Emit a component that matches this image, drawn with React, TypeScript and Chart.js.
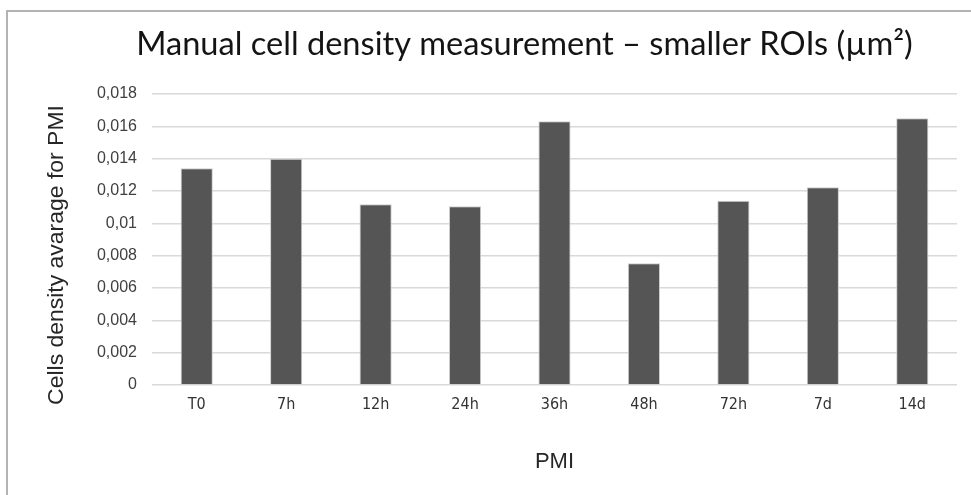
import React, { useEffect, useRef } from "react";
import { Chart, registerables } from "chart.js";

Chart.register(...registerables);

const categories = ["T0", "7h", "12h", "24h", "36h", "48h", "72h", "7d", "14d"];
const densityValues = [0.0134, 0.0140, 0.01118, 0.01105, 0.01631, 0.00753, 0.0114, 0.01223, 0.0165];
const yMax = 0.018;
const yStep = 0.002;
const chartTitle = "Manual cell density measurement \u2013 smaller ROIs (\u00b5m\u00b2)";
const yTitle = "Cells density avarage for PMI";
const xTitle = "PMI";

const W = 971;
const H = 495;

function fitFont(ctx: any, text: string, target: number, family: string) {
  ctx.font = `100px ${family}`;
  const w = ctx.measureText(text).width;
  return (target / w) * 100;
}

const textPlugin = {
  id: "customText",
  beforeDraw(chart: any) {
    const ctx = chart.ctx;
    ctx.save();
    ctx.fillStyle = "#ffffff";
    ctx.fillRect(0, 0, W, H);
    ctx.strokeStyle = "#b3b3b3";
    ctx.lineWidth = 2;
    ctx.beginPath();
    ctx.moveTo(7, H);
    ctx.lineTo(7, 11);
    ctx.lineTo(W, 11);
    ctx.stroke();
    ctx.restore();
  },
  afterDraw(chart: any) {
    const ctx = chart.ctx;
    const area = chart.chartArea;
    ctx.save();
    ctx.fillStyle = "#141414";
    ctx.textAlign = "center";
    ctx.textBaseline = "alphabetic";
    const tFam = "Lato, 'Noto Sans', sans-serif";
    const size = fitFont(ctx, chartTitle, 777, tFam);
    ctx.font = `${size}px ${tFam}`;
    ctx.fillText(chartTitle, 524.5, 55);
    ctx.fillStyle = "#262626";
    const yFam = "'Liberation Sans', Arial, sans-serif";
    const ys = fitFont(ctx, yTitle, 300, yFam);
    ctx.font = `${ys}px ${yFam}`;
    ctx.translate(57, 255);
    ctx.rotate(-Math.PI / 2);
    ctx.textBaseline = "middle";
    ctx.fillText(yTitle, 0, 0);
    ctx.restore();
    ctx.save();
    ctx.fillStyle = "#262626";
    ctx.textAlign = "center";
    ctx.textBaseline = "middle";
    ctx.font = "22px 'Liberation Sans', Arial, sans-serif";
    ctx.fillText(xTitle, (area.left + area.right) / 2, 462);
    ctx.restore();
  },
};

export default function App() {
  const ref = useRef<HTMLCanvasElement | null>(null);
  useEffect(() => {
    document.body.style.margin = "0";
    const chart = new Chart(ref.current as HTMLCanvasElement, {
      type: "bar",
      data: {
        labels: categories,
        datasets: [
          {
            data: densityValues,
            backgroundColor: "#555555",
            borderColor: "#cfcfcf",
            borderWidth: 1,
            barPercentage: 0.36,
            categoryPercentage: 1,
          },
        ],
      },
      options: {
        animation: false,
        responsive: false,
        layout: { padding: { left: 0, right: 14, top: 94, bottom: 0 } },
        plugins: { legend: { display: false }, title: { display: false }, tooltip: { enabled: false } },
        scales: {
          x: {
            grid: { display: false, drawTicks: false },
            border: { display: false },
            ticks: {
              padding: 10,
              color: "#333333",
              font: { family: "'Liberation Sans Narrow', 'DejaVu Sans Condensed', sans-serif", size: 16 },
            },
            afterFit(scale: any) {
              scale.height = 110;
            },
          },
          y: {
            min: 0,
            max: yMax,
            ticks: {
              stepSize: yStep,
              padding: 15,
              color: "#404040",
              font: { family: "'Liberation Sans', Arial, sans-serif", size: 16 },
              callback: (v: any) => String(Number(Number(v).toFixed(3))).replace(".", ","),
            },
            grid: { color: "#d9d9d9", lineWidth: 1.5, drawTicks: false },
            border: { display: false },
            afterFit(scale: any) {
              scale.width = 152;
            },
          },
        },
      },
      plugins: [textPlugin],
    });
    return () => chart.destroy();
  }, []);
  return (
    <div style={{ position: "absolute", left: 0, top: 0, width: W, height: H }}>
      <canvas ref={ref} width={W} height={H} style={{ display: "block", width: W, height: H }} />
    </div>
  );
}
